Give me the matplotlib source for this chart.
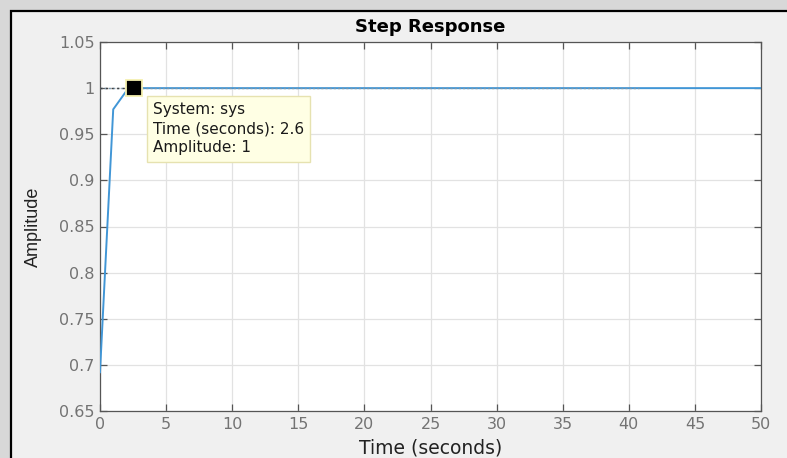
import matplotlib
matplotlib.use("Agg")
import matplotlib.pyplot as plt
from matplotlib.patches import Rectangle

# Step response samples of the system
time_s = [0.0, 1.0, 2.0, 2.6, 50.0]
amplitude = [0.692, 0.977, 0.997, 1.0, 1.0]

# Steady-state level and the point picked by the data tip
steady_value = 1.0
steady_end = 40.8
tip_time = 2.6
tip_amp = 1.0

x_ticks = [0, 5, 10, 15, 20, 25, 30, 35, 40, 45, 50]
y_ticks = [0.65, 0.7, 0.75, 0.8, 0.85, 0.9, 0.95, 1.0, 1.05]
y_tick_labels = ["0.65", "0.7", "0.75", "0.8", "0.85", "0.9", "0.95", "1", "1.05"]

plt.rcParams["font.family"] = ["DejaVu Sans"]

W, H = 787, 458
fig = plt.figure(figsize=(W / 100, H / 100), dpi=100)
fig.patch.set_facecolor("#d8d8d8")

# Window panel with dark top/left border
panel = Rectangle((11 / W, -0.05), 1.2, (H - 11) / H + 0.05, transform=fig.transFigure,
                  facecolor="#f0f0f0", edgecolor="black", linewidth=1.6, zorder=-10)
fig.patches.append(panel)

ax = fig.add_axes([100 / W, 1 - 411 / H, (761 - 100) / W, (411 - 42) / H])
ax.set_facecolor("white")

ax.plot(time_s, amplitude, color="#4196d6", linewidth=1.4, zorder=3)
# steady-state dotted overlay
ax.plot([0, steady_end], [steady_value, steady_value], color="#7896ad",
        linestyle=(0, (1.5, 1.5)), linewidth=1.0, zorder=4)
# data-tip guide line
ax.plot([0, tip_time], [tip_amp, tip_amp], color="#404040",
        linestyle=(0, (1.5, 2.5)), linewidth=1.0, zorder=5)
ax.plot([tip_time], [tip_amp], marker="s", markersize=11, markerfacecolor="black",
        markeredgecolor="#f5f0b0", markeredgewidth=1.3, zorder=6)

ax.annotate("System: sys\nTime (seconds): 2.6\nAmplitude: 1",
            xy=(tip_time, tip_amp), xytext=(153, H - 102), textcoords="figure pixels",
            fontsize=11, color="#1a1a1a", va="top", ha="left", linespacing=1.35,
            xycoords="data", annotation_clip=False,
            bbox=dict(boxstyle="square,pad=0.4", facecolor="#ffffe4",
                      edgecolor="#e6e2b0", linewidth=1.0), zorder=7)

ax.set_xlim(0, 50)
ax.set_ylim(0.65, 1.05)
ax.set_xticks(x_ticks)
ax.set_yticks(y_ticks)
ax.set_yticklabels(y_tick_labels)
ax.grid(True, color="#e2e2e2", linewidth=0.9)
ax.set_axisbelow(True)
ax.tick_params(direction="in", length=5, width=0.9, colors="#555555",
               labelcolor="#737373", labelsize=11.5, top=True, right=True, pad=4)
for s in ax.spines.values():
    s.set_color("#555555")
    s.set_linewidth(0.9)

ax.set_title("Step Response", fontsize=13, fontweight="bold", color="black", pad=7)
ax.set_xlabel("Time (seconds)", fontsize=13.5, color="#222222", labelpad=5)
ax.set_ylabel("Amplitude", fontsize=13, color="#222222", labelpad=12,
              family=["Liberation Sans Narrow", "Liberation Sans", "DejaVu Sans"])

fig.savefig("out.png", dpi=100, facecolor=fig.get_facecolor())
